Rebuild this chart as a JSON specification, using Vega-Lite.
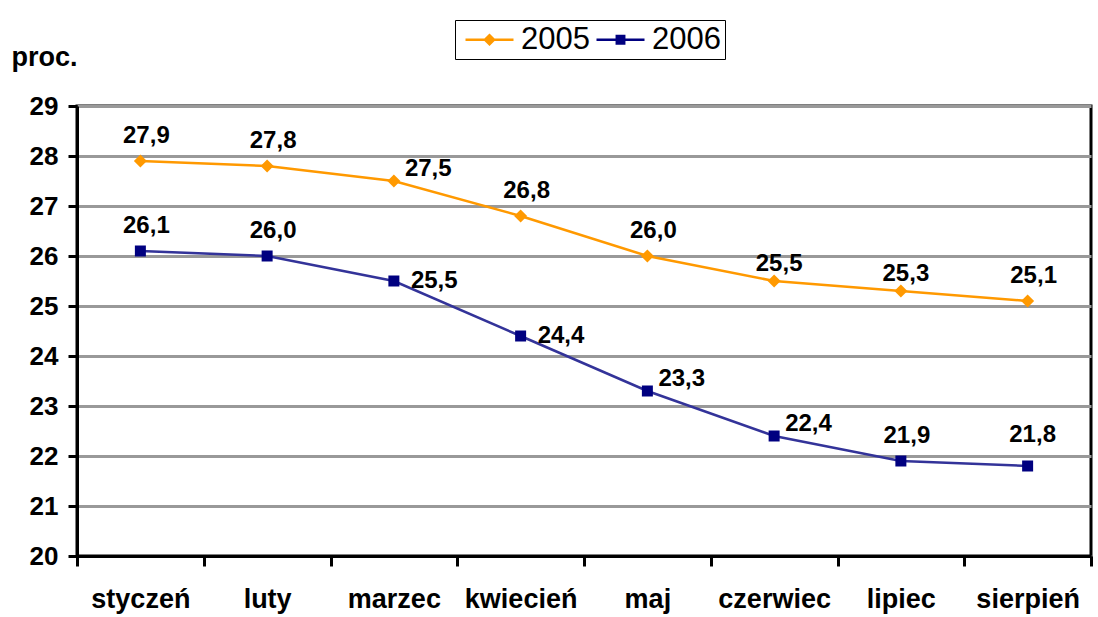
{
  "$schema": "https://vega.github.io/schema/vega-lite/v6.json",
  "width": 1014,
  "height": 450,
  "autosize": "none",
  "padding": {"left": 77, "top": 106, "right": 7, "bottom": 61},
  "background": "white",
  "config": {
    "font": "Liberation Sans",
    "locale": {"number": {"decimal": ",", "thousands": " ", "grouping": [3], "currency": ["", " zł"]}},
    "view": {"stroke": "black", "strokeWidth": 3}
  },
  "data": {
    "values": [
      {"month": "styczeń", "series": "2005", "value": 27.9},
      {"month": "luty", "series": "2005", "value": 27.8},
      {"month": "marzec", "series": "2005", "value": 27.5},
      {"month": "kwiecień", "series": "2005", "value": 26.8},
      {"month": "maj", "series": "2005", "value": 26.0},
      {"month": "czerwiec", "series": "2005", "value": 25.5},
      {"month": "lipiec", "series": "2005", "value": 25.3},
      {"month": "sierpień", "series": "2005", "value": 25.1},
      {"month": "styczeń", "series": "2006", "value": 26.1},
      {"month": "luty", "series": "2006", "value": 26.0},
      {"month": "marzec", "series": "2006", "value": 25.5},
      {"month": "kwiecień", "series": "2006", "value": 24.4},
      {"month": "maj", "series": "2006", "value": 23.3},
      {"month": "czerwiec", "series": "2006", "value": 22.4},
      {"month": "lipiec", "series": "2006", "value": 21.9},
      {"month": "sierpień", "series": "2006", "value": 21.8}
    ]
  },
  "encoding": {
    "x": {
      "field": "month", "type": "nominal", "sort": null,
      "scale": {"paddingInner": 0, "paddingOuter": 0},
      "axis": {
        "title": null, "labelAngle": 0, "tickBand": "extent",
        "domainColor": "black", "domainWidth": 3, "tickColor": "black", "tickWidth": 3, "tickSize": 10,
        "labelFont": "Liberation Sans", "labelFontSize": 27, "labelFontWeight": "bold", "labelColor": "black",
        "labelPadding": 20
      }
    },
    "y": {
      "field": "value", "type": "quantitative",
      "scale": {"domain": [20, 29], "nice": false, "zero": false},
      "axis": {
        "values": [20, 21, 22, 23, 24, 25, 26, 27, 28, 29],
        "title": "proc.", "titleAngle": 0, "titleX": -66, "titleY": -41, "titleAlign": "left", "titleBaseline": "alphabetic",
        "titleFont": "Liberation Sans", "titleFontSize": 27, "titleFontWeight": "bold", "titleColor": "black",
        "grid": true, "gridColor": "#999999", "gridWidth": 3,
        "domainColor": "black", "domainWidth": 3, "tickColor": "black", "tickWidth": 3, "tickSize": 9,
        "labelFont": "Liberation Sans", "labelFontSize": 26, "labelFontWeight": "bold", "labelColor": "black",
        "labelPadding": 10
      }
    }
  },
  "layer": [
    {
      "mark": {"type": "line", "strokeWidth": 2.5},
      "encoding": {
        "color": {
          "field": "series", "type": "nominal",
          "scale": {"domain": ["2005", "2006"], "range": ["#FF9900", "#333399"]},
          "legend": {
            "title": null, "orient": "none", "legendX": 378, "legendY": -86, "direction": "horizontal", "columns": 2,
            "strokeColor": "black", "fillColor": "white", "padding": 4, "columnPadding": -6, "symbolOffset": 6,
            "symbolSize": 900, "labelFontSize": 31, "labelFont": "Liberation Sans", "labelColor": "black", "labelOffset": 25,
            "labelLimit": 200,
            "encode": {
              "symbols": {
                "update": {
                  "shape": {"signal": "datum.value === '2005' ? 'M-1,-0.08H2.2V0.08H-1Z M0.6,-0.42L1.02,0L0.6,0.42L0.18,0Z' : 'M-1,-0.08H2.2V0.08H-1Z M0.27,-0.33H0.93V0.33H0.27Z'"},
                  "fill": {"signal": "datum.value === '2005' ? '#FF9900' : '#000080'"},
                  "stroke": {"value": "transparent"},
                  "strokeWidth": {"value": 0},
                  "opacity": {"value": 1}
                }
              }
            }
          }
        }
      }
    },
    {
      "transform": [{"filter": "datum.series === '2005'"}],
      "mark": {"type": "point", "shape": "diamond", "filled": true, "opacity": 1, "color": "#FF9900", "size": 169}
    },
    {
      "transform": [{"filter": "datum.series === '2006'"}],
      "mark": {"type": "point", "shape": "square", "filled": true, "opacity": 1, "color": "#000080", "size": 121}
    },
    {
      "transform": [{"filter": "(datum.series === '2005' && indexof(['styczeń','luty','kwiecień','maj','sierpień'], datum.month) >= 0) || (datum.series === '2006' && indexof(['styczeń','luty','lipiec'], datum.month) >= 0)"}],
      "mark": {"type": "text", "dy": -25, "dx": 6, "fontSize": 24, "fontWeight": "bold", "font": "Liberation Sans", "color": "black"},
      "encoding": {"text": {"field": "value", "type": "quantitative", "format": ".1f"}}
    },
    {
      "transform": [{"filter": "datum.series === '2005' && indexof(['czerwiec','lipiec'], datum.month) >= 0"}],
      "mark": {"type": "text", "dy": -17, "dx": 5, "fontSize": 24, "fontWeight": "bold", "font": "Liberation Sans", "color": "black"},
      "encoding": {"text": {"field": "value", "type": "quantitative", "format": ".1f"}}
    },
    {
      "transform": [{"filter": "datum.series === '2006' && datum.month === 'sierpień'"}],
      "mark": {"type": "text", "dy": -31, "dx": 5, "fontSize": 24, "fontWeight": "bold", "font": "Liberation Sans", "color": "black"},
      "encoding": {"text": {"field": "value", "type": "quantitative", "format": ".1f"}}
    },
    {
      "transform": [{"filter": "(datum.series === '2005' && datum.month === 'marzec') || (datum.series === '2006' && indexof(['maj','czerwiec'], datum.month) >= 0)"}],
      "mark": {"type": "text", "dy": -12, "dx": 11, "align": "left", "fontSize": 24, "fontWeight": "bold", "font": "Liberation Sans", "color": "black"},
      "encoding": {"text": {"field": "value", "type": "quantitative", "format": ".1f"}}
    },
    {
      "transform": [{"filter": "datum.series === '2006' && indexof(['marzec','kwiecień'], datum.month) >= 0"}],
      "mark": {"type": "text", "dy": 0, "dx": 17, "align": "left", "fontSize": 24, "fontWeight": "bold", "font": "Liberation Sans", "color": "black"},
      "encoding": {"text": {"field": "value", "type": "quantitative", "format": ".1f"}}
    }
  ]
}
